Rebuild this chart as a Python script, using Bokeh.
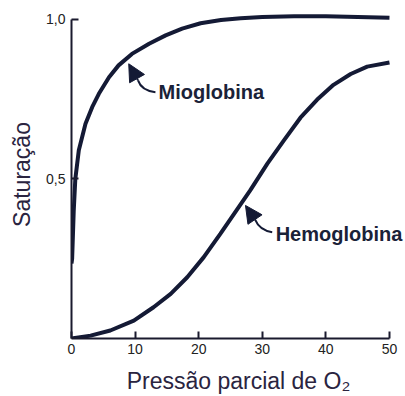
from bokeh.plotting import figure
from bokeh.models import Range1d, FixedTicker, Arrow, NormalHead, Label
from bokeh.embed import file_html
from bokeh.resources import INLINE

# Data
mio_x = [0, 0.1, 0.35, 0.6, 1.15, 2.2, 3.25, 4.3, 5.9, 7.4, 9.5, 12.2, 14.8, 17.4,
         20.3, 23.5, 26.6, 30, 35, 40, 45, 50]
mio_y = [0.235, 0.25, 0.40, 0.50, 0.59, 0.673, 0.725, 0.767, 0.819, 0.856, 0.892,
         0.924, 0.95, 0.971, 0.988, 0.998, 1.004, 1.008, 1.01, 1.01, 1.008, 1.005]
hemo_x = [0, 3, 6.1, 9.8, 12.9, 15.6, 18.2, 20.8, 23.4, 26.05, 28.1, 30.8, 33.4,
          36, 38.6, 41.2, 43.9, 46.5, 50]
hemo_y = [0, 0.009, 0.025, 0.056, 0.098, 0.14, 0.192, 0.255, 0.328, 0.405, 0.464,
          0.548, 0.621, 0.692, 0.748, 0.795, 0.829, 0.852, 0.865]
x_ticks = [0, 10, 20, 30, 40, 50]
y_ticks = [0.5, 1.0]
y_tick_labels = {0.5: "0,5", 1.0: "1,0"}
labels = ["Mioglobina", "Hemoglobina"]

# annotation anchors (data coords)
label_pos = [(13.7, 0.774), (32.1, 0.328)]
mio_arrow = dict(tip=(9.0, 0.861), base=(10.46, 0.809), ctrl=(11.0, 0.777), tail=(13.2, 0.772))
hemo_arrow = dict(tip=(27.36, 0.417), base=(28.85, 0.373), ctrl=(29.56, 0.339), tail=(31.56, 0.333))

INK = "#141a35"
TXT = "#2a2440"

p = figure(width=405, height=396, output_backend="svg", toolbar_location=None,
           x_range=Range1d(0, 52.52), y_range=Range1d(0, 1.028),
           min_border_left=71, min_border_right=0, min_border_top=10, min_border_bottom=58)
p.outline_line_color = None
p.grid.visible = False
p.background_fill_color = "white"

p.line(mio_x, mio_y, line_width=4, line_color=INK)
p.line(hemo_x, hemo_y, line_width=4, line_color=INK)

for ax in (p.xaxis[0], p.yaxis[0]):
    ax.axis_line_color = "#1a1a2e"
    ax.axis_line_width = 2
    ax.major_tick_line_color = "#1a1a2e"
    ax.major_tick_line_width = 2
    ax.major_tick_in = 7
    ax.major_tick_out = 0
    ax.minor_tick_line_color = None
    ax.major_label_text_font = "Liberation Sans"
    ax.major_label_text_font_size = "14px"
    ax.major_label_text_color = "#222222"
    ax.axis_label_text_font = "Liberation Sans"
    ax.axis_label_text_font_size = "23px"
    ax.axis_label_text_font_style = "normal"
    ax.axis_label_text_color = TXT

p.xaxis.ticker = FixedTicker(ticks=x_ticks)
p.xaxis.bounds = (0, 50)
p.xaxis.axis_label = "Pressão parcial de O₂"
p.xaxis.major_label_standoff = 5
p.xaxis.axis_label_standoff = 11

p.yaxis.ticker = FixedTicker(ticks=y_ticks)
p.yaxis.major_label_overrides = y_tick_labels
p.yaxis.bounds = (0, 1)
p.yaxis.axis_label = "Saturação"
p.yaxis.major_label_standoff = 6
p.yaxis.axis_label_standoff = 8

for arr in (mio_arrow, hemo_arrow):
    p.quadratic(x0=[arr["base"][0]], y0=[arr["base"][1]], x1=[arr["tail"][0]], y1=[arr["tail"][1]],
                cx=[arr["ctrl"][0]], cy=[arr["ctrl"][1]], line_color=INK, line_width=2)
    p.add_layout(Arrow(x_start=arr["base"][0], y_start=arr["base"][1],
                       x_end=arr["tip"][0], y_end=arr["tip"][1], line_color=INK, line_width=2,
                       end=NormalHead(size=17, fill_color=INK, line_color=INK, line_width=1)))

for txt, (lx, ly) in zip(labels, label_pos):
    p.add_layout(Label(x=lx, y=ly, text=txt, text_font="Liberation Sans", text_font_style="bold",
                       text_font_size="20px", text_color="#1a2238",
                       text_baseline="alphabetic", text_align="left"))

open("out.html", "w").write(file_html(p, INLINE))
